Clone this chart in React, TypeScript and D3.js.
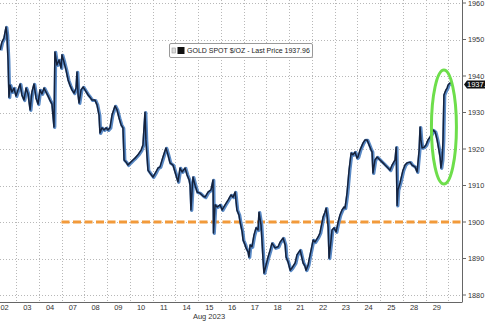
import React from "react";
import * as d3 from "d3";

const dayLabels = ["02","03","04","07","08","09","10","11","14","15","16","17","18","21","22","23","24","25","28","29"];
const yTicks = [1880,1890,1900,1910,1920,1930,1940,1950,1960];
const lastPrice = 1937.96;
const supportLevel = 1900;

// time in trading days since open of Aug 02, price in $/oz
const times = [
0.30,0.38,0.47,0.52,0.56,0.60,0.65,0.69,0.74,0.82,0.91,1.00,1.09,1.18,1.26,1.35,1.44,1.53,1.62,1.70,1.79,1.88,1.97,2.05,2.14,2.23,2.32,2.41,2.49,2.58,2.67,
2.71,2.80,2.89,2.98,3.02,3.11,3.20,3.29,3.37,3.46,3.55,3.64,3.68,3.73,3.77,3.86,3.95,4.03,4.17,4.25,4.34,4.47,4.56,4.65,4.69,4.78,4.87,4.96,5.04,5.13,5.22,5.35,5.44,5.53,5.62,5.70,
5.75,5.84,5.92,6.01,6.14,6.23,6.36,6.50,6.58,6.67,6.71,6.80,6.89,7.02,7.15,7.24,7.33,7.46,7.59,7.68,7.77,7.90,7.99,8.12,8.21,8.30,8.43,8.52,8.61,8.65,8.69,8.74,8.78,8.87,8.96,
9.09,9.22,9.31,9.44,9.57,9.66,9.68,9.75,9.84,9.97,10.06,10.19,10.32,10.45,10.54,10.63,10.71,10.80,10.85,10.94,10.98,11.07,11.11,11.20,11.24,11.29,11.37,11.46,11.55,11.64,11.68,11.77,11.81,11.86,11.90,
11.99,12.08,12.17,12.25,12.39,12.52,12.61,12.74,12.83,12.87,12.96,13.05,13.13,13.27,13.35,13.49,13.57,13.62,13.70,13.75,13.84,13.88,13.97,14.06,14.14,14.28,14.36,14.50,14.58,14.63,14.67,14.72,14.76,14.85,14.89,
14.98,15.07,15.16,15.24,15.33,15.42,15.46,15.51,15.55,15.64,15.73,15.81,15.90,15.99,16.03,16.12,16.25,16.34,16.43,16.52,16.61,16.65,16.69,16.78,16.87,17.00,17.13,17.22,17.35,17.44,17.53,17.66,17.71,17.75,17.79,
17.88,18.01,18.10,18.19,18.32,18.41,18.54,18.63,18.72,18.76,18.80,18.85,18.94,19.02,19.11,19.20,19.29,19.33,19.42,19.46,19.51,19.59,19.64,19.68,19.73,19.77,19.81,19.86,19.90,19.95,19.99,20.03,20.08,20.12
];
const prices = [
1947.1,1949.3,1950.4,1952.1,1953.4,1951.2,1944.4,1934.2,1937.5,1935.6,1936.7,1934.5,1936.2,1937.8,1934.8,1933.4,1936.7,1935.1,1930.7,1935.6,1937.8,1934.0,1932.3,1936.2,1935.1,1936.7,1935.6,1934.5,1933.4,1932.3,1926.0,
1946.6,1943.0,1944.4,1942.2,1945.8,1943.8,1941.6,1938.9,1937.5,1936.2,1935.3,1936.7,1941.1,1934.8,1932.6,1936.2,1937.0,1936.2,1934.8,1934.2,1933.4,1933.4,1932.1,1929.3,1924.4,1925.8,1925.2,1925.8,1925.2,1925.8,1929.3,1931.8,1930.7,1928.5,1926.6,1925.8,
1917.0,1916.4,1915.6,1916.2,1917.0,1917.5,1918.4,1919.7,1921.1,1930.1,1922.5,1914.2,1913.4,1912.3,1913.7,1914.8,1915.1,1917.8,1920.3,1918.4,1916.2,1915.6,1913.7,1911.0,1914.8,1913.7,1914.8,1912.9,1911.5,1910.1,1903.3,1908.8,1912.3,1910.1,1908.2,
1907.9,1907.1,1906.8,1908.2,1908.8,1911.5,1897.0,1904.7,1904.1,1904.7,1903.3,1904.7,1906.0,1907.4,1906.8,1908.2,1903.3,1901.9,1900.0,1897.3,1895.1,1893.7,1892.9,1891.8,1890.4,1893.7,1893.2,1896.4,1898.4,1897.8,1902.7,1899.2,1895.1,1889.6,1886.0,
1888.2,1890.4,1892.3,1894.2,1892.9,1893.2,1894.5,1895.6,1893.7,1890.4,1889.0,1886.8,1887.4,1888.8,1891.0,1892.3,1890.1,1888.8,1887.9,1886.8,1888.2,1889.6,1892.3,1895.1,1894.5,1895.9,1897.0,1901.4,1902.7,1903.8,1901.9,1898.6,1890.1,1895.1,1897.8,
1898.4,1897.3,1900.0,1901.9,1903.3,1904.1,1903.8,1906.0,1907.9,1914.2,1918.9,1918.4,1919.2,1917.5,1917.8,1919.7,1921.6,1922.5,1922.5,1921.1,1919.7,1919.2,1913.4,1917.0,1917.8,1917.0,1916.2,1915.6,1914.8,1914.2,1915.6,1917.0,1920.5,1904.5,1908.8,
1910.7,1914.2,1915.6,1916.2,1916.4,1915.6,1915.1,1913.7,1919.7,1926.0,1922.5,1920.3,1920.5,1921.1,1922.5,1923.3,1924.4,1925.2,1924.7,1923.8,1922.5,1919.7,1917.8,1914.8,1917.0,1922.5,1934.8,1935.6,1936.2,1936.7,1937.5,1937.8,1938.1,1937.96
];

const W = 485, H = 321;
const plotRight = 462.5, plotBottom = 302;

export default function App() {
  const x = d3.scaleLinear().domain([0, 20]).range([-6.75, 448.25]);
  const y = d3.scaleLinear().domain([1880, 1960]).range([295, 3]);
  const data = times.map((t, i) => [t, prices[i]] as [number, number]);
  const line = d3.line<[number, number]>().x(d => x(d[0])).y(d => y(d[1]));
  const path = line(data) || "";
  const font = "'Liberation Sans', Arial, sans-serif";
  const boundaries = d3.range(1, 21);
  const ly = y(lastPrice);
  return (
    <svg width={W} height={H} style={{ position: "absolute", left: 0, top: 0, background: "#fff" }} fontFamily={font}>
      <defs>
        <clipPath id="plot"><rect x={0} y={0} width={plotRight} height={plotBottom} /></clipPath>
        <filter id="blur" x="-50%" y="-50%" width="200%" height="200%"><feGaussianBlur stdDeviation="0.6" /></filter>
      </defs>
      <rect width={W} height={H} fill="#fff" />
      <g stroke="#b8b8b8" strokeWidth={1} strokeDasharray="1,2">
        {yTicks.map(v => (
          <line key={v} x1={0} x2={plotRight} y1={Math.round(y(v)) + 0.5} y2={Math.round(y(v)) + 0.5} />
        ))}
        {boundaries.map(b => (
          <line key={b} x1={Math.round(x(b)) + 0.5} x2={Math.round(x(b)) + 0.5} y1={0} y2={plotBottom} />
        ))}
      </g>
      <line x1={x(3)} x2={plotRight} y1={y(supportLevel)} y2={y(supportLevel)} stroke="#f29a3a" strokeWidth={3} strokeDasharray="8,3.5" />
      <g clipPath="url(#plot)">
        <path d={path} fill="none" stroke="#5a8ac6" strokeWidth={3.2} strokeLinejoin="round" transform="translate(0.8,0.4)" />
        <path d={path} fill="none" stroke="#15223c" strokeWidth={1.5} strokeLinejoin="round" />
      </g>
      <ellipse cx={x(19.81)} cy={y(1926)} rx={12.5} ry={57} fill="none" stroke="#6ede4c" strokeWidth={3} filter="url(#blur)" />
      <line x1={plotRight} x2={plotRight} y1={0} y2={plotBottom} stroke="#666" strokeWidth={1} />
      <line x1={0} x2={plotRight} y1={plotBottom + 0.5} y2={plotBottom + 0.5} stroke="#666" strokeWidth={1} />
      {yTicks.map(v => (
        <g key={v}>
          <line x1={plotRight} x2={plotRight + 3.5} y1={y(v)} y2={y(v)} stroke="#666" />
          <text x={468} y={y(v)} dy="0.35em" fontSize={7.3} fill="#333">{v}</text>
        </g>
      ))}
      {dayLabels.map((d, i) => (
        <text key={d} x={x(i + 0.5)} y={310} textAnchor="middle" fontSize={7.5} fill="#333">{d}</text>
      ))}
      <text x={209} y={319} textAnchor="middle" fontSize={7.5} fill="#333">Aug 2023</text>
      <path d={`M${plotRight + 1.5},${ly + 1} L${467},${ly - 3} L${W},${ly - 3} L${W},${ly + 5} L${467},${ly + 5} Z`} fill="#111" />
      <text x={467} y={ly + 1} dy="0.35em" fontSize={7.5} fill="#fff">{lastPrice.toFixed(2)}</text>
      <g>
        <rect x={169.5} y={43.5} width={143} height={14} rx={1.5} fill="#fff" stroke="#999" />
        <rect x={172} y={48} width={3.5} height={5} fill="#ddd" stroke="#999" strokeWidth={0.6} />
        <rect x={177.5} y={47} width={7} height={7} fill="#111" />
        <text x={187} y={50.8} dy="0.35em" fontSize={7} fill="#222">GOLD SPOT $/OZ - Last Price {lastPrice.toFixed(2)}</text>
      </g>
    </svg>
  );
}
